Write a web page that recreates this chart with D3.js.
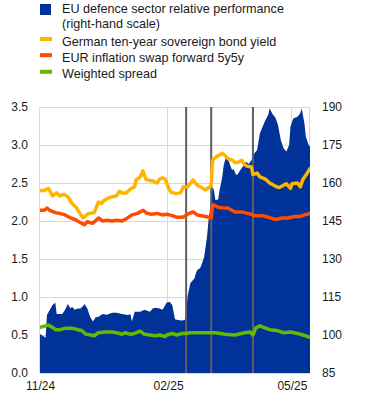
<!DOCTYPE html>
<html>
<head>
<meta charset="utf-8">
<script src="https://cdn.jsdelivr.net/npm/d3@7"></script>
<style>
  html, body { margin: 0; padding: 0; background: #fff; }
  svg { display: block; font-family: "Liberation Sans", Arial, sans-serif; }
</style>
</head>
<body>
<svg id="chart" width="370" height="399"></svg>
<script>
// ---------- DATA ----------
const legendLabels = [
  ["EU defence sector relative performance", "(right-hand scale)"],
  ["German ten-year sovereign bond yield"],
  ["EUR inflation swap forward 5y5y"],
  ["Weighted spread"]
];
const seriesColors = ["#003299", "#FFB400", "#FF4B00", "#65B800"];

const xTickDates = ["2024-11-01", "2025-02-01", "2025-05-01"];
const xTickLabels = ["11/24", "02/25", "05/25"];
const leftTicks = [0.0, 0.5, 1.0, 1.5, 2.0, 2.5, 3.0, 3.5];
const rightTicks = [85, 100, 115, 130, 145, 160, 175, 190];
const eventDates = ["2025-02-14", "2025-03-04", "2025-04-03"];
const dateRange = ["2024-11-01", "2025-05-14"];

// EU defence sector relative performance (right-hand scale)
const defenceDates = ["2024-11-01","2024-11-04","2024-11-05","2024-11-06","2024-11-08","2024-11-10","2024-11-12","2024-11-13","2024-11-17","2024-11-19","2024-11-21","2024-11-23","2024-11-24","2024-11-26","2024-11-28","2024-11-30","2024-12-02","2024-12-03","2024-12-05","2024-12-07","2024-12-09","2024-12-11","2024-12-13","2024-12-16","2024-12-19","2024-12-23","2024-12-26","2024-12-30","2025-01-03","2025-01-05","2025-01-06","2025-01-08","2025-01-12","2025-01-15","2025-01-19","2025-01-21","2025-01-23","2025-01-26","2025-01-28","2025-01-31","2025-02-02","2025-02-04","2025-02-06","2025-02-08","2025-02-11","2025-02-13","2025-02-14","2025-02-15","2025-02-17","2025-02-20","2025-02-21","2025-02-22","2025-02-24","2025-02-25","2025-02-27","2025-02-28","2025-03-01","2025-03-02","2025-03-04","2025-03-05","2025-03-06","2025-03-07","2025-03-09","2025-03-10","2025-03-12","2025-03-13","2025-03-15","2025-03-16","2025-03-18","2025-03-19","2025-03-20","2025-03-22","2025-03-23","2025-03-25","2025-03-27","2025-03-29","2025-03-31","2025-04-02","2025-04-03","2025-04-04","2025-04-06","2025-04-08","2025-04-10","2025-04-12","2025-04-14","2025-04-15","2025-04-17","2025-04-19","2025-04-21","2025-04-23","2025-04-25","2025-04-27","2025-04-29","2025-04-30","2025-05-02","2025-05-05","2025-05-07","2025-05-08","2025-05-10","2025-05-11","2025-05-13","2025-05-14"];
const defenceValues = [100.4,99.3,98.9,107.9,109.9,111.8,112.7,108.3,108.3,110.0,112.2,110.5,111.2,110.0,110.5,110.5,111.4,112.2,110.5,107.2,105.3,107.0,107.2,108.3,108.0,108.8,108.8,108.3,107.9,108.2,105.3,109.2,109.2,110.0,109.2,110.5,110.8,110.5,110.0,112.7,113.1,111.8,106.2,105.9,105.7,105.9,108.6,115.1,120.4,122.4,124.4,125.7,126.3,127.6,130.9,134.9,138.8,144.7,153.3,158.6,157.0,153.3,153.5,157.0,162.5,167.1,171.0,169.7,166.5,165.1,165.5,163.2,163.5,165.1,166.7,168.4,167.5,169.1,169.7,171.7,173.0,179.6,182.3,184.9,186.8,189.5,187.2,186.0,183.0,177.0,173.7,172.4,175.0,182.3,185.5,186.2,187.5,189.5,183.6,178.3,175.0,174.3];

// German ten-year sovereign bond yield
const bundDates = ["2024-11-01","2024-11-04","2024-11-07","2024-11-10","2024-11-13","2024-11-15","2024-11-18","2024-11-21","2024-11-24","2024-11-27","2024-11-30","2024-12-02","2024-12-04","2024-12-06","2024-12-10","2024-12-13","2024-12-15","2024-12-17","2024-12-20","2024-12-23","2024-12-26","2024-12-28","2024-12-30","2025-01-02","2025-01-05","2025-01-08","2025-01-09","2025-01-12","2025-01-14","2025-01-16","2025-01-19","2025-01-21","2025-01-24","2025-01-26","2025-01-28","2025-01-30","2025-02-01","2025-02-03","2025-02-07","2025-02-10","2025-02-12","2025-02-15","2025-02-19","2025-02-22","2025-02-26","2025-02-28","2025-03-03","2025-03-04","2025-03-05","2025-03-08","2025-03-12","2025-03-14","2025-03-16","2025-03-19","2025-03-21","2025-03-23","2025-03-26","2025-03-28","2025-03-30","2025-04-02","2025-04-03","2025-04-06","2025-04-08","2025-04-12","2025-04-15","2025-04-19","2025-04-22","2025-04-25","2025-04-27","2025-04-30","2025-05-01","2025-05-05","2025-05-07","2025-05-09","2025-05-12","2025-05-14"];
const bundValues = [2.40,2.40,2.43,2.33,2.37,2.33,2.35,2.32,2.23,2.18,2.09,2.04,2.07,2.10,2.11,2.25,2.23,2.27,2.30,2.32,2.33,2.39,2.37,2.37,2.42,2.45,2.54,2.58,2.66,2.55,2.53,2.53,2.50,2.55,2.57,2.55,2.45,2.38,2.36,2.37,2.45,2.45,2.54,2.47,2.43,2.41,2.45,2.47,2.80,2.85,2.89,2.86,2.82,2.80,2.77,2.77,2.80,2.74,2.72,2.71,2.61,2.63,2.58,2.55,2.50,2.46,2.44,2.47,2.49,2.43,2.49,2.50,2.45,2.55,2.63,2.69];

// EUR inflation swap forward 5y5y
const swapDates = ["2024-11-01","2024-11-04","2024-11-06","2024-11-08","2024-11-12","2024-11-15","2024-11-19","2024-11-23","2024-11-27","2024-11-30","2024-12-03","2024-12-05","2024-12-09","2024-12-13","2024-12-16","2024-12-19","2024-12-23","2024-12-26","2024-12-30","2025-01-03","2025-01-06","2025-01-10","2025-01-14","2025-01-17","2025-01-20","2025-01-24","2025-01-28","2025-01-31","2025-02-04","2025-02-07","2025-02-11","2025-02-13","2025-02-15","2025-02-19","2025-02-22","2025-02-28","2025-03-04","2025-03-05","2025-03-07","2025-03-09","2025-03-13","2025-03-16","2025-03-21","2025-03-26","2025-03-30","2025-04-02","2025-04-04","2025-04-10","2025-04-14","2025-04-19","2025-04-24","2025-04-28","2025-05-03","2025-05-07","2025-05-10","2025-05-14"];
const swapValues = [2.14,2.14,2.17,2.14,2.11,2.10,2.08,2.04,2.01,1.98,1.95,1.99,1.97,2.04,2.00,2.01,2.00,2.01,2.00,2.04,2.08,2.10,2.14,2.10,2.09,2.10,2.08,2.09,2.07,2.05,2.05,2.06,2.09,2.12,2.08,2.06,2.04,2.21,2.20,2.18,2.17,2.17,2.12,2.12,2.10,2.09,2.07,2.07,2.05,2.02,2.04,2.04,2.06,2.06,2.08,2.10];

// Weighted spread
const spreadDates = ["2024-11-01","2024-11-05","2024-11-07","2024-11-10","2024-11-12","2024-11-15","2024-11-20","2024-11-24","2024-11-28","2024-12-01","2024-12-04","2024-12-08","2024-12-10","2024-12-13","2024-12-18","2024-12-23","2024-12-26","2024-12-30","2025-01-01","2025-01-05","2025-01-08","2025-01-12","2025-01-15","2025-01-19","2025-01-23","2025-01-26","2025-01-30","2025-01-31","2025-02-04","2025-02-07","2025-02-11","2025-02-13","2025-02-17","2025-02-24","2025-03-07","2025-03-14","2025-03-21","2025-03-28","2025-04-01","2025-04-03","2025-04-05","2025-04-08","2025-04-12","2025-04-15","2025-04-20","2025-04-25","2025-04-30","2025-05-05","2025-05-09","2025-05-14"];
const spreadValues = [0.60,0.62,0.63,0.60,0.57,0.57,0.59,0.59,0.57,0.56,0.51,0.50,0.49,0.53,0.54,0.54,0.53,0.51,0.53,0.51,0.52,0.55,0.51,0.50,0.49,0.50,0.48,0.50,0.52,0.50,0.52,0.52,0.53,0.53,0.53,0.51,0.50,0.53,0.54,0.50,0.59,0.62,0.59,0.57,0.56,0.53,0.54,0.52,0.50,0.47];

// ---------- CHART ----------
const parse = d3.utcParse("%Y-%m-%d");
const svg = d3.select("#chart");
const plot = { left: 40, right: 310, top: 107, bottom: 373 };

const x = d3.scaleUtc().domain(dateRange.map(parse)).range([plot.left, plot.right]);
const yL = d3.scaleLinear().domain([0, 3.5]).range([plot.bottom, plot.top]);
const yR = d3.scaleLinear().domain([85, 190]).range([plot.bottom, plot.top]);

const gridColor = "#d9d9d9";
const textColor = "#1a1a1a";

svg.append("defs").append("clipPath").attr("id", "clip")
  .append("rect").attr("x", plot.left).attr("y", plot.top)
  .attr("width", plot.right - plot.left).attr("height", plot.bottom - plot.top);

// gridlines
const grid = svg.append("g");
grid.selectAll("line.h").data(leftTicks).join("line")
  .attr("x1", plot.left).attr("x2", plot.right)
  .attr("y1", d => Math.round(yL(d)) + 0.5).attr("y2", d => Math.round(yL(d)) + 0.5)
  .attr("stroke", gridColor).attr("stroke-width", 1);
grid.selectAll("line.v").data(xTickDates.map(parse).concat([parse(dateRange[1])])).join("line")
  .attr("x1", d => Math.round(x(d)) - 0.5).attr("x2", d => Math.round(x(d)) - 0.5)
  .attr("y1", plot.top).attr("y2", plot.bottom)
  .attr("stroke", gridColor).attr("stroke-width", 1);

// area
const defence = defenceDates.map((d, i) => ({ date: parse(d), v: defenceValues[i] }));
svg.append("path").datum(defence)
  .attr("clip-path", "url(#clip)")
  .attr("fill", seriesColors[0])
  .attr("d", d3.area().x(d => x(d.date)).y0(plot.bottom).y1(d => yR(d.v)));

// event lines
svg.append("g").selectAll("line").data(eventDates.map(parse)).join("line")
  .attr("x1", d => x(d)).attr("x2", d => x(d))
  .attr("y1", plot.top).attr("y2", plot.bottom)
  .attr("stroke", "#5f5f5f").attr("stroke-width", 2);

// lines
const lineGen = d3.line().x(d => x(d.date)).y(d => yL(d.v));
const lineSeries = [
  { dates: bundDates, values: bundValues, color: seriesColors[1] },
  { dates: swapDates, values: swapValues, color: seriesColors[2] },
  { dates: spreadDates, values: spreadValues, color: seriesColors[3] }
];
lineSeries.forEach(s => {
  const data = s.dates.map((d, i) => ({ date: parse(d), v: s.values[i] }));
  svg.append("path").datum(data)
    .attr("fill", "none").attr("stroke", s.color)
    .attr("stroke-width", 3.5).attr("stroke-linejoin", "round").attr("stroke-linecap", "round")
    .attr("clip-path", "url(#clip)")
    .attr("d", lineGen);
});

// axes
const fmtL = d3.format(".1f");
const axL = svg.append("g").attr("transform", `translate(${plot.left - 12},0)`)
  .call(d3.axisLeft(yL).tickValues(leftTicks).tickFormat(fmtL).tickSize(0).tickPadding(0));
const axR = svg.append("g").attr("transform", `translate(${plot.right + 12},0)`)
  .call(d3.axisRight(yR).tickValues(rightTicks).tickFormat(d3.format("d")).tickSize(0).tickPadding(0));
const axB = svg.append("g").attr("transform", `translate(0,${plot.bottom + 8})`)
  .call(d3.axisBottom(x).tickValues(xTickDates.map(parse))
    .tickFormat((d, i) => xTickLabels[i]).tickSize(0).tickPadding(0));
[axL, axR, axB].forEach(a => {
  a.select(".domain").remove();
  a.selectAll("text").attr("fill", textColor).attr("font-size", 12)
    .attr("font-family", '"Liberation Sans", Arial, sans-serif');
});
axB.selectAll("text").attr("dy", "0.71em");

// legend
const legend = svg.append("g");
const rowBaselines = [[13.3, 28], [45.5], [61.7], [78.3]];
legendLabels.forEach((lines, i) => {
  const base = rowBaselines[i][0];
  if (i === 0) {
    legend.append("rect").attr("x", 40).attr("y", 4).attr("width", 11).attr("height", 11)
      .attr("fill", seriesColors[0]);
  } else {
    legend.append("rect").attr("x", 40).attr("y", base - 8.5).attr("width", 12).attr("height", 4)
      .attr("fill", seriesColors[i]);
  }
  lines.forEach((t, j) => {
    legend.append("text").attr("x", 62).attr("y", rowBaselines[i][j])
      .attr("font-size", 12.6).attr("fill", textColor).text(t);
  });
});
</script>
</body>
</html>
